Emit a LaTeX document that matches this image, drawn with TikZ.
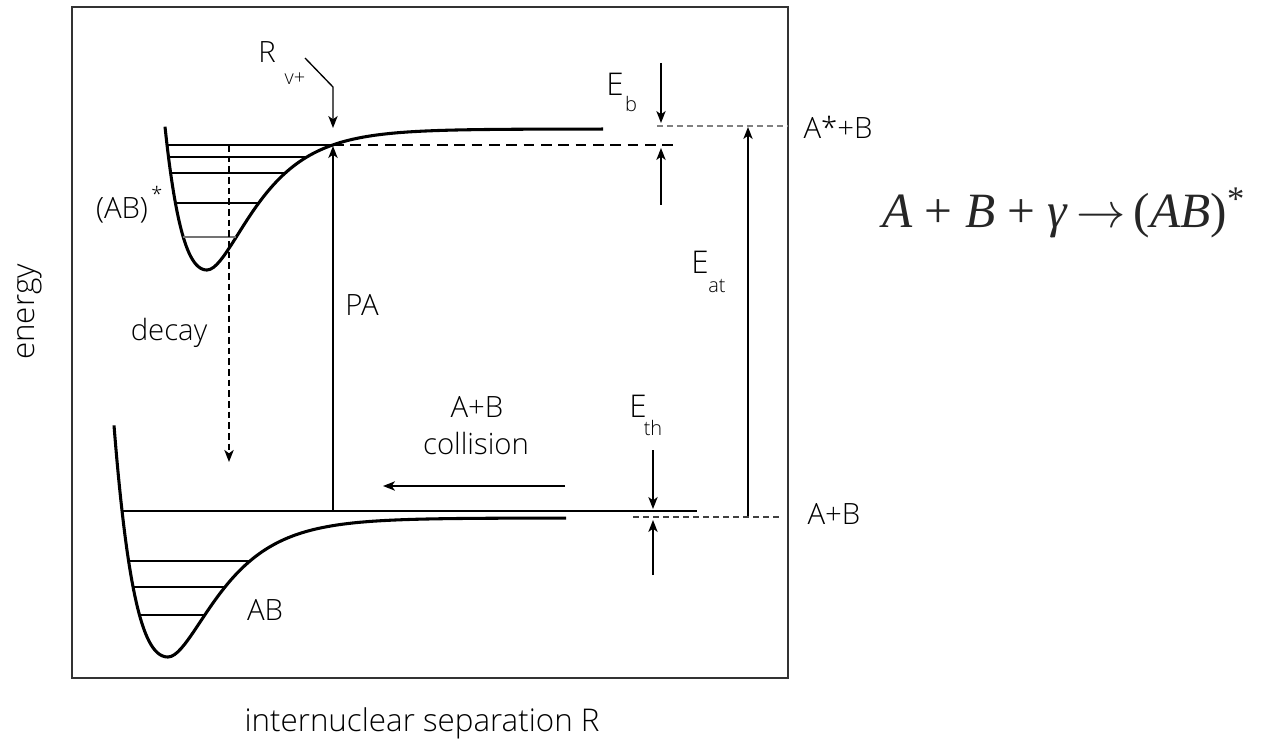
\RequirePackage{fix-cm}
\documentclass[tikz,border=0pt]{standalone}
\usepackage{fontspec}
\IfFontExistsTF{Open Sans Light}{\setmainfont{Open Sans Light}}{\setmainfont{Open Sans}}
\newfontfamily\fserif{Liberation Serif}
\usetikzlibrary{arrows.meta}
\newcommand\uplev[2][black]{\draw[lev,#1] ({207-ln(1+sqrt((270-#2)/141))/0.0166},#2) -- ({207-ln(1-sqrt((270-#2)/141))/0.0226},#2);}
\newcommand\lowlev[1]{\draw[lev] ({168-ln(1+sqrt((657-#1)/139))/0.01535},#1) -- ({168-ln(1-sqrt((657-#1)/139))/0.0217},#1);}
\begin{document}
\begin{tikzpicture}[x=0.75pt,y=-0.75pt,
  curve/.style={line width=2.3pt, line join=round},
  lev/.style={line width=1pt},
  tipst/.style={-{Stealth[length=9pt,width=7pt,inset=2.5pt]}},
  arr/.style={tipst, line width=1pt},
  lbl/.style={font=\fontsize{22}{24}\selectfont, inner sep=0pt},
  big/.style={font=\fontsize{23.5}{26}\selectfont, inner sep=0pt},
  sub/.style={font=\fontsize{15}{17}\selectfont, inner sep=0pt},
  gdash/.style={gray, line width=1pt, dash pattern=on 4.5pt off 3pt}]
\useasboundingbox (0,0) rectangle (1262,741);
% frame
\draw[line width=1.2pt, black!80] (72,7) rectangle (788,678);
% upper potential
\draw[curve] plot[domain=165:207,samples=40] (\x,{270-141*(1-exp(-0.0166*(\x-207)))*(1-exp(-0.0166*(\x-207)))})
  -- plot[domain=207:603,samples=120] (\x,{270-141*(1-exp(-0.0226*(\x-207)))*(1-exp(-0.0226*(\x-207)))});
\uplev{145}\uplev{157}\uplev{173}\uplev{203}\uplev[black!55]{237}
% lower potential
\draw[curve] plot[domain=114:168,samples=40] (\x,{657-139*(1-exp(-0.01535*(\x-168)))*(1-exp(-0.01535*(\x-168)))})
  -- plot[domain=168:566,samples=120] (\x,{657-139*(1-exp(-0.0217*(\x-168)))*(1-exp(-0.0217*(\x-168)))});
\lowlev{561}\lowlev{587}\lowlev{615}
\coordinate (ABl) at ({168-ln(1+sqrt((657-511)/139))/0.01535},511);
\coordinate (ABr) at (697,511);
\draw[line width=2pt] (ABl) -- (ABr);
% PA
\coordinate (PAb) at (333,511);
\coordinate (PAt) at (333,146);
\draw[arr, line width=1.3pt] (PAb) -- (PAt);
% dashed level
\coordinate (DLl) at (333,145);
\coordinate (DLr) at (673,145);
\draw[line width=1.5pt, dash pattern=on 8pt off 5pt] (DLl) -- (DLr);
% decay
\coordinate (DCt) at (229,145);
\coordinate (DCb) at (229,462);
\draw[tipst, line width=2pt, dash pattern=on 5pt off 3pt] (DCt) -- (DCb);
% R_v+ arrow
\coordinate (R1) at (305,58);
\coordinate (R2) at (333,87);
\coordinate (R3) at (333,128);
\draw[arr] (R1) -- (R2) -- (R3);
% E_b
\coordinate (Eb1) at (661,63); \coordinate (Eb2) at (661,123);
\coordinate (Eb3) at (661,205); \coordinate (Eb4) at (661,148);
\draw[arr] (Eb1) -- (Eb2);
\draw[arr] (Eb3) -- (Eb4);
% E_at
\coordinate (Ea1) at (748,517); \coordinate (Ea2) at (748,127);
\draw[arr] (Ea1) -- (Ea2);
% E_th
\coordinate (Et1) at (653,450); \coordinate (Et2) at (653,509);
\coordinate (Et3) at (653,575); \coordinate (Et4) at (653,520);
\draw[arr] (Et1) -- (Et2);
\draw[arr] (Et3) -- (Et4);
% collision
\coordinate (C1) at (565,486); \coordinate (C2) at (383,486);
\draw[arr] (C1) -- (C2);
% asymptote dashes
\coordinate (G1) at (657,126); \coordinate (G2) at (788,126);
\draw[gdash] (G1) -- (G2);
\coordinate (G3) at (633,517); \coordinate (G4) at (782,517);
\draw[gdash, black!75] (G3) -- (G4);
% labels
\node[lbl] (lAsB) at (838,127) {A*+B};
\node[lbl] (lAB) at (834,514) {A+B};
\node[lbl] (lABs) at (122,210) {(AB)};
\node[sub] (lstar) at (157,194) {*};
\node[lbl] (ldecay) at (169,333) {decay};
\node[lbl] (lPA) at (362,305) {PA};
\node[lbl] (lcol1) at (477,407) {A+B};
\node[lbl] (lcol2) at (476,443) {collision};
\node[lbl] (lABlow) at (265,610) {AB};
\node[big] (lEb) at (615,84) {E};
\node[sub] (lEbs) at (631,104) {b};
\node[big] (lEat) at (700,262) {E};
\node[sub] (lEats) at (717,286) {at};
\node[big] (lEth) at (638,406) {E};
\node[sub] (lEths) at (653,428) {th};
\node[lbl] (lR) at (267,52) {R};
\node[sub] (lRs) at (295,79) {v+};
\node[big, rotate=90] (lenergy) at (30,312) {energy};
\node[big] (laxis) at (422,723) {internuclear separation R};
\node[anchor=base west, inner sep=0pt, font=\fserif\fontsize{37}{40}\selectfont, text=black!85] (formula) at (882,228) {\textit{A} + \textit{B} + \textit{γ}\,\(\rightarrow\)\,(\textit{AB})\textsuperscript{*}};
\end{tikzpicture}
\end{document}
